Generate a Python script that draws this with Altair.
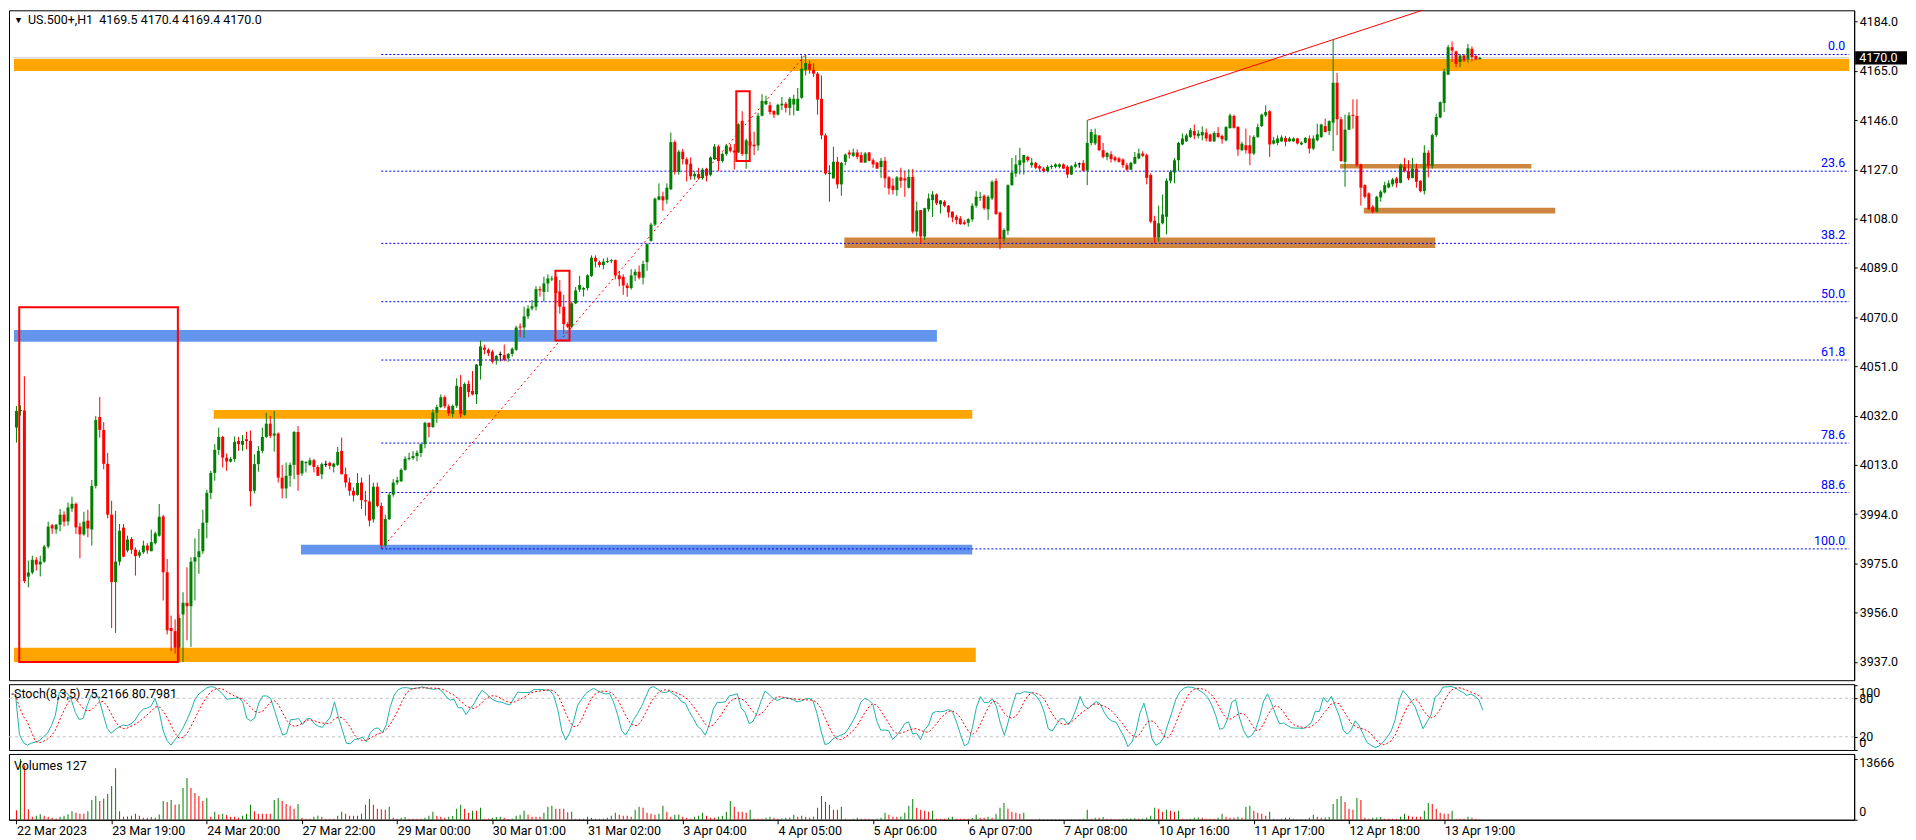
import altair as alt
import numpy as np
import pandas as pd

# US.500+ H1, hourly bars from 22 Mar 2023 to 13 Apr 2023
bar_open = [
    4027.4, 4033.8, 4034.0, 3969.9, 3971.5, 3976.4, 3974.6, 3975.7, 3981.5, 3989.7,
    3988.1, 3989.9, 3993.8, 3991.2, 3996.2, 3998.0, 3989.2, 3986.2, 3991.5, 3988.1,
    4004.9, 4031.5, 4026.5, 4013.4, 3993.8, 3967.8, 3975.7, 3988.8, 3980.0, 3984.4,
    3980.3, 3978.0, 3979.3, 3981.9, 3979.7, 3982.8, 3985.7, 3993.1, 3971.6, 3950.1,
    3948.9, 3942.5, 3955.3, 3959.8, 3958.5, 3975.7, 3977.4, 3979.7, 3990.7, 4002.2,
    4009.9, 4018.8, 4023.8, 4015.8, 4014.3, 4015.3, 4022.2, 4020.8, 4022.9, 4022.2,
    4003.0, 4013.3, 4018.4, 4023.8, 4028.9, 4024.3, 4025.1, 4008.1, 4003.9, 4008.8,
    4013.0, 4025.7, 4009.7, 4013.7, 4013.0, 4014.8, 4012.2, 4009.4, 4013.0, 4013.8,
    4012.2, 4013.0, 4018.4, 4009.4, 4006.2, 4003.0, 4001.4, 4006.2, 3999.4, 3998.9,
    3992.0, 4004.6, 3997.2, 3981.9, 3992.1, 4001.5, 4006.2, 4006.7, 4011.1, 4015.3,
    4015.6, 4016.4, 4017.6, 4021.0, 4029.2, 4027.6, 4033.2, 4035.3, 4039.1, 4035.6,
    4032.7, 4035.8, 4043.1, 4032.3, 4044.2, 4041.5, 4040.2, 4051.2, 4058.2, 4057.4,
    4056.7, 4053.2, 4055.4, 4055.4, 4054.1, 4055.8, 4057.4, 4066.4, 4066.0, 4070.3,
    4073.3, 4074.0, 4080.8, 4079.7, 4083.0, 4084.5, 4085.5, 4079.9, 4074.0, 4067.3,
    4066.3, 4075.3, 4080.6, 4080.6, 4081.2, 4085.9, 4092.9, 4091.2, 4090.1, 4091.2,
    4091.6, 4092.0, 4086.1, 4085.5, 4082.2, 4081.2, 4086.1, 4087.5, 4085.2, 4091.2,
    4099.4, 4105.7, 4115.3, 4116.6, 4115.3, 4119.3, 4137.5, 4126.0, 4133.8, 4130.9,
    4129.2, 4124.3, 4125.2, 4123.6, 4127.2, 4124.9, 4130.9, 4135.8, 4130.2, 4132.9,
    4135.5, 4134.2, 4133.5, 4145.7, 4132.9, 4137.8, 4136.5, 4136.2, 4147.7, 4152.1,
    4151.7, 4149.5, 4148.1, 4151.7, 4152.3, 4150.7, 4152.0, 4149.6, 4154.6, 4165.4,
    4167.7, 4165.4, 4163.9, 4154.2, 4140.1, 4125.2, 4123.5, 4129.9, 4121.2, 4129.9,
    4133.5, 4132.2, 4133.5, 4132.5, 4129.6, 4133.5, 4130.5, 4129.6, 4127.9, 4130.3,
    4123.9, 4120.7, 4119.0, 4123.9, 4123.5, 4119.9, 4124.1, 4103.0, 4111.3, 4101.1,
    4111.6, 4115.1, 4117.3, 4113.5, 4114.5, 4113.0, 4110.7, 4108.7, 4108.1, 4106.6,
    4106.4, 4107.7, 4113.0, 4116.0, 4116.8, 4111.6, 4115.8, 4122.6, 4110.3, 4100.2,
    4103.3, 4120.9, 4125.4, 4128.6, 4129.6, 4131.8, 4128.6, 4129.5, 4128.2, 4127.3,
    4126.3, 4127.9, 4128.0, 4128.0, 4128.9, 4128.0, 4125.0, 4128.0, 4128.9, 4129.5,
    4126.5, 4137.2, 4137.0, 4140.1, 4134.4, 4131.8, 4132.8, 4131.6, 4131.2, 4130.8,
    4128.6, 4126.9, 4129.2, 4131.2, 4133.1, 4132.5, 4124.8, 4107.2, 4100.7, 4106.2,
    4108.7, 4122.6, 4125.8, 4130.5, 4136.6, 4137.8, 4139.5, 4141.8, 4139.9, 4140.1,
    4141.2, 4140.4, 4137.8, 4141.0, 4139.9, 4138.2, 4142.9, 4147.6, 4143.3, 4134.4,
    4136.3, 4136.3, 4133.1, 4139.5, 4143.7, 4147.8, 4149.4, 4136.9, 4137.2, 4137.8,
    4139.1, 4137.8, 4137.8, 4138.9, 4136.6, 4137.3, 4138.9, 4135.0, 4138.2, 4139.5,
    4143.7, 4141.8, 4145.0, 4160.4, 4146.3, 4129.9, 4142.3, 4147.8, 4147.6, 4128.9,
    4120.9, 4117.7, 4112.6, 4110.7, 4116.2, 4118.1, 4120.0, 4121.2, 4123.5, 4121.8,
    4128.0, 4126.3, 4123.7, 4127.3, 4122.6, 4118.6, 4133.4, 4128.4, 4140.2, 4147.0,
    4152.6, 4163.5, 4174.1, 4172.5, 4168.4, 4170.9, 4169.4, 4173.5, 4170.7, 4169.5,
]
bar_high = [
    4035.7, 4036.0, 4047.2, 3976.1, 3978.0, 3977.4, 3978.0, 3982.1, 3991.1, 3990.2,
    3990.2, 3996.0, 3995.1, 3998.5, 4000.7, 3998.5, 3990.7, 3994.9, 3995.7, 4007.2,
    4031.9, 4039.2, 4029.5, 4017.6, 3999.2, 3995.3, 3990.2, 3990.2, 3985.7, 3985.1,
    3981.2, 3980.2, 3983.8, 3982.8, 3988.0, 3987.3, 3997.9, 3993.7, 3976.7, 3954.9,
    3953.4, 3955.3, 3963.9, 3973.5, 3977.4, 3984.7, 3988.3, 3995.7, 4003.4, 4010.7,
    4021.0, 4027.4, 4024.2, 4017.4, 4016.1, 4024.0, 4023.8, 4024.5, 4025.8, 4026.3,
    4017.1, 4020.3, 4027.4, 4033.1, 4031.9, 4033.8, 4025.5, 4013.0, 4013.9, 4013.9,
    4026.1, 4028.0, 4014.8, 4014.4, 4015.8, 4015.4, 4013.0, 4013.9, 4014.6, 4014.2,
    4013.8, 4019.9, 4023.5, 4012.0, 4008.1, 4004.3, 4009.8, 4008.1, 4003.0, 4009.2,
    4006.2, 4006.2, 3998.5, 3993.8, 4002.4, 4007.5, 4008.4, 4011.7, 4016.3, 4017.7,
    4018.3, 4018.6, 4021.3, 4029.6, 4029.4, 4034.5, 4036.2, 4040.2, 4039.8, 4036.3,
    4036.3, 4046.4, 4047.7, 4044.8, 4045.5, 4049.2, 4051.9, 4061.0, 4059.4, 4058.0,
    4057.4, 4055.4, 4056.7, 4059.4, 4056.1, 4058.3, 4066.7, 4067.6, 4074.0, 4074.6,
    4076.6, 4081.9, 4081.9, 4085.6, 4086.5, 4085.9, 4085.9, 4084.3, 4078.6, 4068.0,
    4076.0, 4081.6, 4085.9, 4081.6, 4086.5, 4093.8, 4093.8, 4091.8, 4092.6, 4093.0,
    4092.4, 4092.2, 4087.9, 4086.5, 4083.2, 4088.5, 4088.5, 4089.9, 4091.8, 4098.5,
    4106.4, 4116.1, 4121.6, 4118.4, 4121.6, 4141.2, 4138.2, 4134.5, 4134.9, 4131.6,
    4131.6, 4126.3, 4127.6, 4127.6, 4127.6, 4132.0, 4136.8, 4136.5, 4133.5, 4136.8,
    4136.8, 4136.8, 4144.8, 4149.4, 4138.8, 4140.8, 4141.5, 4148.8, 4156.0, 4155.4,
    4153.0, 4149.8, 4152.3, 4154.9, 4153.0, 4154.9, 4155.8, 4158.4, 4170.9, 4171.3,
    4169.0, 4167.9, 4164.5, 4163.2, 4140.8, 4128.6, 4135.7, 4131.8, 4129.9, 4133.1,
    4134.4, 4135.0, 4134.7, 4133.7, 4133.7, 4133.7, 4131.2, 4129.9, 4131.4, 4131.8,
    4124.4, 4123.5, 4124.4, 4127.6, 4126.3, 4127.1, 4127.1, 4114.5, 4111.3, 4112.2,
    4117.7, 4118.6, 4117.7, 4115.1, 4115.1, 4113.2, 4110.7, 4109.4, 4109.0, 4107.5,
    4108.1, 4113.9, 4118.6, 4118.3, 4117.3, 4117.0, 4122.8, 4123.5, 4110.7, 4104.2,
    4121.2, 4131.4, 4132.5, 4135.3, 4132.5, 4132.2, 4131.4, 4129.9, 4128.8, 4127.9,
    4128.6, 4128.8, 4129.3, 4129.3, 4129.3, 4128.6, 4128.6, 4129.9, 4129.6, 4130.6,
    4145.9, 4142.5, 4142.7, 4140.1, 4137.2, 4133.7, 4134.0, 4132.2, 4131.8, 4131.2,
    4129.5, 4129.9, 4133.7, 4135.0, 4134.0, 4133.1, 4125.4, 4109.1, 4113.0, 4117.3,
    4123.5, 4126.7, 4131.4, 4137.6, 4140.8, 4140.8, 4143.0, 4144.3, 4142.1, 4143.6,
    4142.7, 4140.8, 4141.7, 4143.3, 4140.4, 4143.7, 4148.5, 4148.1, 4143.7, 4137.6,
    4142.7, 4140.1, 4140.1, 4144.6, 4148.5, 4151.7, 4149.8, 4139.5, 4140.1, 4140.1,
    4139.9, 4139.5, 4139.3, 4139.1, 4137.8, 4139.5, 4140.1, 4140.1, 4144.6, 4144.6,
    4146.6, 4145.9, 4177.1, 4164.2, 4147.2, 4148.1, 4149.1, 4154.0, 4154.0, 4129.2,
    4121.2, 4118.1, 4113.2, 4116.8, 4119.0, 4122.2, 4122.8, 4123.7, 4124.1, 4129.2,
    4131.4, 4130.5, 4131.4, 4129.2, 4122.8, 4136.3, 4134.4, 4140.8, 4148.5, 4153.2,
    4165.8, 4175.0, 4176.3, 4172.8, 4171.5, 4171.5, 4175.4, 4174.4, 4171.5, 4170.4,
]
bar_low = [
    4021.6, 4032.0, 3967.4, 3965.8, 3970.8, 3972.3, 3970.0, 3975.2, 3980.8, 3986.4,
    3986.4, 3987.4, 3989.3, 3989.6, 3994.9, 3986.4, 3977.0, 3985.7, 3985.1, 3981.9,
    4003.9, 4023.5, 4011.3, 3992.4, 3950.1, 3948.2, 3974.2, 3977.4, 3979.3, 3978.7,
    3970.3, 3977.1, 3978.7, 3978.7, 3979.7, 3982.3, 3985.3, 3960.7, 3947.6, 3941.2,
    3940.2, 3937.0, 3937.0, 3945.3, 3942.8, 3960.7, 3971.0, 3978.7, 3984.7, 3999.8,
    4006.9, 4016.9, 4012.0, 4010.7, 4013.9, 4014.2, 4018.4, 4018.4, 4019.0, 3997.0,
    4002.0, 4010.4, 4017.5, 4023.3, 4023.3, 4018.1, 4006.2, 4000.1, 4000.1, 4004.6,
    4007.5, 4003.0, 4008.8, 4010.1, 4012.6, 4010.1, 4008.8, 4007.5, 4012.2, 4011.3,
    4010.1, 4012.6, 4009.4, 4004.3, 4001.1, 3998.9, 4001.1, 3996.0, 3993.4, 3989.3,
    3990.8, 3996.6, 3980.6, 3981.2, 3991.7, 4000.7, 4005.3, 4006.4, 4010.8, 4014.7,
    4015.0, 4014.4, 4016.0, 4019.4, 4023.6, 4027.3, 4029.2, 4034.9, 4034.8, 4031.9,
    4031.3, 4035.0, 4031.3, 4032.0, 4039.1, 4039.8, 4036.5, 4045.9, 4055.7, 4055.0,
    4052.1, 4051.7, 4053.0, 4053.0, 4052.8, 4054.8, 4057.0, 4062.3, 4062.0, 4069.3,
    4072.6, 4072.6, 4077.9, 4076.0, 4079.7, 4083.9, 4075.3, 4071.3, 4063.6, 4065.8,
    4065.8, 4075.0, 4079.7, 4077.9, 4080.3, 4085.5, 4089.2, 4089.2, 4088.5, 4090.9,
    4090.8, 4084.6, 4081.9, 4078.6, 4077.9, 4080.6, 4083.9, 4084.5, 4082.6, 4087.9,
    4099.1, 4105.1, 4115.0, 4111.0, 4113.7, 4119.0, 4125.0, 4124.9, 4128.9, 4122.3,
    4123.0, 4123.0, 4123.0, 4123.0, 4122.3, 4124.3, 4130.6, 4126.3, 4129.6, 4132.2,
    4133.5, 4126.9, 4133.3, 4132.2, 4127.2, 4135.5, 4132.5, 4134.2, 4147.4, 4151.8,
    4148.1, 4146.8, 4147.8, 4149.8, 4148.9, 4147.8, 4147.8, 4149.6, 4154.2, 4163.2,
    4163.9, 4162.6, 4148.1, 4138.6, 4124.8, 4114.5, 4123.5, 4119.6, 4116.8, 4128.6,
    4131.2, 4131.8, 4130.9, 4129.6, 4129.6, 4130.1, 4127.6, 4127.1, 4123.7, 4119.9,
    4117.3, 4117.3, 4116.8, 4119.9, 4116.4, 4119.6, 4102.3, 4101.1, 4098.5, 4099.8,
    4110.7, 4108.6, 4113.2, 4110.0, 4112.4, 4108.4, 4106.6, 4105.8, 4105.6, 4105.6,
    4104.9, 4106.8, 4112.2, 4114.8, 4111.3, 4107.5, 4115.2, 4109.4, 4096.2, 4099.1,
    4101.7, 4120.7, 4124.1, 4125.0, 4125.0, 4129.9, 4127.6, 4127.1, 4126.1, 4125.8,
    4125.8, 4127.1, 4127.4, 4127.4, 4127.1, 4123.7, 4124.8, 4127.4, 4127.6, 4126.1,
    4120.9, 4136.3, 4136.3, 4134.0, 4131.2, 4130.5, 4129.6, 4129.9, 4129.6, 4127.6,
    4126.3, 4126.7, 4129.0, 4130.9, 4131.8, 4121.2, 4106.2, 4098.5, 4099.1, 4105.8,
    4101.9, 4121.6, 4121.6, 4126.3, 4136.3, 4137.6, 4139.1, 4138.6, 4138.9, 4138.2,
    4137.8, 4137.6, 4137.6, 4139.1, 4136.9, 4137.8, 4142.7, 4142.7, 4132.2, 4134.0,
    4133.1, 4128.6, 4132.5, 4139.1, 4143.3, 4147.2, 4131.8, 4136.6, 4136.3, 4137.6,
    4135.9, 4137.6, 4137.6, 4136.6, 4136.3, 4137.0, 4133.1, 4134.4, 4137.8, 4139.1,
    4141.2, 4140.2, 4134.1, 4140.2, 4129.9, 4120.3, 4142.1, 4142.7, 4128.0, 4113.0,
    4115.8, 4111.3, 4110.0, 4110.4, 4114.5, 4117.7, 4119.7, 4120.3, 4120.0, 4121.6,
    4125.8, 4122.8, 4123.5, 4119.9, 4118.1, 4117.3, 4123.9, 4127.3, 4139.5, 4146.7,
    4149.1, 4163.5, 4168.4, 4166.4, 4166.4, 4168.4, 4168.1, 4168.6, 4169.1, 4169.4,
]
bar_close = [
    4033.8, 4034.0, 3968.2, 3971.5, 3976.4, 3974.6, 3975.7, 3981.5, 3989.2, 3988.5,
    3989.9, 3993.8, 3991.1, 3996.6, 3998.0, 3988.9, 3986.2, 3991.1, 3988.5, 4004.9,
    4030.3, 4026.5, 4013.4, 3993.8, 3967.8, 3975.7, 3987.6, 3977.6, 3984.2, 3980.3,
    3977.8, 3979.3, 3981.9, 3980.0, 3983.2, 3986.6, 3993.0, 3971.6, 3949.2, 3948.9,
    3942.5, 3954.0, 3959.8, 3958.5, 3975.7, 3977.4, 3979.7, 3990.7, 4002.2, 4009.9,
    4018.8, 4023.8, 4015.8, 4014.3, 4015.3, 4021.9, 4021.0, 4022.2, 4022.2, 4002.8,
    4013.3, 4018.4, 4023.8, 4028.9, 4024.2, 4025.1, 4008.1, 4003.9, 4008.8, 4013.0,
    4025.7, 4009.2, 4014.5, 4014.0, 4014.8, 4012.2, 4008.8, 4013.3, 4013.0, 4012.6,
    4013.5, 4018.0, 4009.4, 4006.2, 4003.0, 4001.2, 4006.0, 3999.4, 3998.9, 3991.5,
    4004.6, 3997.2, 3981.9, 3992.1, 4001.5, 4006.2, 4007.1, 4011.1, 4015.4, 4015.6,
    4016.4, 4017.7, 4021.0, 4029.2, 4027.6, 4033.2, 4035.3, 4039.1, 4035.6, 4032.9,
    4035.8, 4043.5, 4032.7, 4044.2, 4041.1, 4040.2, 4051.7, 4058.7, 4057.4, 4056.1,
    4052.8, 4055.0, 4055.4, 4053.4, 4055.8, 4057.8, 4066.0, 4066.0, 4070.3, 4073.3,
    4074.2, 4080.8, 4080.3, 4083.0, 4084.9, 4084.9, 4079.3, 4074.0, 4067.3, 4066.3,
    4075.3, 4080.3, 4082.4, 4081.2, 4086.1, 4092.9, 4091.4, 4090.1, 4091.4, 4091.6,
    4092.0, 4086.1, 4084.6, 4082.2, 4081.2, 4086.1, 4087.5, 4085.2, 4090.5, 4098.1,
    4105.7, 4115.7, 4116.6, 4115.0, 4119.9, 4137.5, 4126.0, 4133.8, 4130.9, 4128.9,
    4124.3, 4125.2, 4123.6, 4126.9, 4124.5, 4131.6, 4135.8, 4130.2, 4132.9, 4136.2,
    4134.2, 4133.5, 4144.4, 4132.9, 4138.2, 4136.2, 4135.9, 4147.7, 4153.4, 4153.4,
    4149.1, 4148.1, 4151.9, 4152.3, 4150.7, 4154.2, 4154.2, 4154.2, 4165.8, 4168.0,
    4165.4, 4163.9, 4153.9, 4140.1, 4125.4, 4125.7, 4129.9, 4121.2, 4129.5, 4132.7,
    4132.7, 4133.5, 4131.8, 4129.6, 4133.1, 4130.3, 4128.9, 4127.3, 4130.3, 4123.5,
    4119.6, 4119.0, 4123.9, 4122.6, 4122.7, 4124.1, 4103.0, 4111.1, 4101.1, 4112.0,
    4115.8, 4117.3, 4113.9, 4115.0, 4113.0, 4110.4, 4108.4, 4107.5, 4105.9, 4105.9,
    4107.8, 4113.0, 4116.4, 4116.4, 4112.0, 4116.4, 4122.2, 4109.8, 4100.2, 4103.6,
    4120.9, 4125.8, 4128.9, 4130.5, 4132.5, 4130.5, 4129.6, 4127.6, 4127.3, 4126.3,
    4128.0, 4128.2, 4128.9, 4128.9, 4127.3, 4125.0, 4128.2, 4128.9, 4128.9, 4126.5,
    4137.2, 4141.4, 4140.4, 4134.4, 4131.8, 4133.3, 4130.9, 4130.5, 4129.9, 4128.6,
    4126.9, 4129.5, 4131.8, 4133.1, 4132.2, 4123.7, 4106.8, 4100.7, 4106.2, 4109.6,
    4122.6, 4126.0, 4130.5, 4137.2, 4138.9, 4140.1, 4142.1, 4140.1, 4140.8, 4141.4,
    4138.9, 4137.8, 4141.0, 4139.5, 4138.6, 4143.3, 4147.8, 4143.0, 4134.6, 4136.9,
    4134.4, 4133.1, 4139.5, 4143.3, 4148.1, 4149.1, 4136.6, 4138.2, 4138.9, 4139.3,
    4137.6, 4138.9, 4138.9, 4137.0, 4137.3, 4139.1, 4135.0, 4138.9, 4140.5, 4144.3,
    4141.4, 4145.6, 4160.4, 4146.3, 4130.2, 4142.3, 4147.8, 4147.6, 4128.6, 4119.9,
    4116.4, 4111.7, 4110.7, 4116.4, 4118.4, 4120.9, 4121.6, 4123.1, 4121.6, 4128.6,
    4126.3, 4123.5, 4127.3, 4122.2, 4118.6, 4133.4, 4128.4, 4140.2, 4147.2, 4152.9,
    4164.8, 4174.1, 4172.8, 4167.7, 4170.9, 4169.0, 4173.7, 4170.3, 4169.4, 4170.0,
]
bar_volume = [
    2155, 13666, 12185, 2378, 669, 892, 1263, 892, 669, 446,
    297, 669, 892, 1263, 1932, 1560, 1337, 1337, 1932, 4458,
    5350, 4235, 4755, 5795, 7579, 11591, 1932, 669, 743, 892,
    1337, 892, 446, 446, 594, 446, 1189, 4235, 4012, 4458,
    3344, 3492, 7133, 9362, 7133, 6018, 5350, 4235, 4904, 669,
    1783, 1189, 1337, 1040, 669, 669, 446, 892, 1337, 3344,
    1932, 1337, 1337, 1337, 1337, 4458, 4904, 4235, 3566, 3121,
    2452, 3566, 446, 223, 223, 669, 892, 669, 223, 223,
    223, 892, 1783, 1337, 892, 892, 892, 1337, 3344, 4681,
    3344, 2452, 2378, 2229, 2898, 446, 223, 446, 594, 223,
    223, 223, 223, 446, 892, 1783, 892, 669, 446, 669,
    817, 2452, 3344, 2452, 1560, 2006, 2006, 2675, 223, 223,
    446, 594, 669, 446, 149, 297, 892, 1115, 2006, 1115,
    669, 669, 669, 1560, 2898, 3121, 2452, 2452, 2452, 1709,
    1783, 223, 223, 223, 669, 446, 223, 223, 223, 446,
    892, 1560, 1115, 892, 892, 669, 2229, 2898, 2675, 1560,
    1337, 1115, 1337, 3121, 1783, 669, 1115, 1189, 669, 446,
    223, 669, 892, 1560, 892, 446, 446, 669, 892, 1783,
    4235, 2898, 1783, 1783, 1560, 2229, 223, 223, 223, 446,
    669, 446, 223, 297, 446, 520, 1115, 669, 892, 669,
    446, 669, 2675, 5350, 4012, 3344, 2229, 2229, 2898, 223,
    100, 223, 446, 223, 223, 223, 100, 223, 446, 1560,
    1115, 669, 669, 743, 1560, 3121, 4681, 2675, 2229, 2006,
    1783, 2006, 223, 223, 223, 446, 669, 223, 223, 223,
    223, 446, 1115, 446, 446, 669, 446, 1337, 2675, 3789,
    2452, 1783, 1560, 1337, 1560, 120, 100, 100, 223, 100,
    100, 100, 100, 100, 100, 100, 100, 100, 100, 223,
    2229, 223, 446, 446, 594, 223, 223, 100, 100, 223,
    260, 300, 340, 223, 260, 446, 892, 2675, 2452, 1783,
    2229, 2006, 1783, 2006, 223, 100, 223, 446, 520, 446,
    223, 223, 223, 446, 1337, 669, 446, 446, 669, 446,
    2898, 3121, 2006, 1560, 1337, 892, 1783, 223, 100, 223,
    446, 446, 223, 100, 100, 100, 446, 1115, 669, 446,
    520, 594, 3566, 4681, 5350, 4012, 2452, 2229, 4904, 4458,
    446, 223, 446, 520, 594, 223, 223, 223, 223, 669,
    1337, 892, 669, 669, 669, 2006, 3789, 3566, 2452, 1560,
    1337, 1337, 2006, 223, 223, 223, 669, 446, 223, 127,
]

price_ticks = [4184.0, 4165.0, 4146.0, 4127.0, 4108.0, 4089.0, 4070.0,
               4051.0, 4032.0, 4013.0, 3994.0, 3975.0, 3956.0, 3937.0]
date_ticks = [0, 24, 48, 72, 96, 120, 144, 168, 192, 216, 240, 264, 288, 312, 336, 360]
date_labels = ["22 Mar 2023", "23 Mar 19:00", "24 Mar 20:00", "27 Mar 22:00",
               "29 Mar 00:00", "30 Mar 01:00", "31 Mar 02:00", "3 Apr 04:00",
               "4 Apr 05:00", "5 Apr 06:00", "6 Apr 07:00", "7 Apr 08:00",
               "10 Apr 16:00", "11 Apr 17:00", "12 Apr 18:00", "13 Apr 19:00"]

# drawn objects (bar index / price)
band_x0 = [None, None, 49.75, 71.75, None, 208.75, 333.75, 339.75]
band_x1 = [None, 232.1, 241.0, 241.0, 241.9, 357.75, 382.0, 388.0]
band_lo = [4164.9, 4060.5, 4030.8, 3978.4, 3937.0, 4096.7, 4127.3, 4110.0]
band_hi = [4169.6, 4065.0, 4034.2, 3982.2, 3942.5, 4100.7, 4129.1, 4112.2]
band_color = ["#FFA500", "#6495ED", "#FFA500", "#6495ED", "#FFA500",
              "#CD853F", "#CD853F", "#CD853F"]

box_x0 = [0.7, 135.9, 181.5]
box_x1 = [40.7, 139.45, 184.9]
box_lo = [3937.0, 4061.0, 4130.2]
box_hi = [4073.8, 4087.9, 4157.1]

fib_levels = [0.0, 23.6, 38.2, 50.0, 61.8, 78.6, 88.6, 100.0]
fib_from = (92, 3980.6)
fib_to = (199, 4171.3)
trend_x = [270, 359]
trend_p = [4145.9, 4190.6]
bid_price = 4170.0

title_text = "US.500+,H1\u00a0 4169.5 4170.4 4169.4 4170.0"
stoch_text = "Stoch(8,3,5) 75.2166 80.7981"
volume_text = "Volumes 127"

W = 1851
H_MAIN = 672
H_SUB = 66
X_MIN = -0.625
X_MAX = X_MIN + W / 4
FONT = "Roboto"
FS = 12.5

n = len(bar_close)
o = np.array(bar_open)
hi = np.array(bar_high)
lo = np.array(bar_low)
c = np.array(bar_close)

bars = pd.DataFrame({"i": np.arange(n), "open": o, "high": hi, "low": lo, "close": c})
bars["dir"] = np.where(c > o, "up", np.where(c < o, "down", "flat"))
body_lo = np.minimum(o, c)
body_hi = np.maximum(o, c)
bars["body_lo"] = body_lo
bars["body_hi"] = np.where(body_hi - body_lo < 0.4, body_lo + 0.4, body_hi)

# Stochastic 8,3,5 (low/high)
ll = bars["low"].rolling(8, min_periods=1).min()
hh = bars["high"].rolling(8, min_periods=1).max()
k = 100 * (bars["close"] - ll).rolling(3, min_periods=1).sum() / (hh - ll).rolling(3, min_periods=1).sum()
stoch = pd.DataFrame({"i": np.arange(n), "k": k, "d": k.rolling(5, min_periods=1).mean()})

vol = np.array(bar_volume)
vols = pd.DataFrame({"i": np.arange(n), "v": vol})
vols["dir"] = np.where(np.r_[False, vol[1:] > vol[:-1]], "up", "down")

xs = alt.Scale(domain=[X_MIN, X_MAX], nice=False, zero=False)
ys = alt.Scale(domain=[3929.96, 4188.34], nice=False, zero=False)
price_axis = alt.Axis(orient="right", values=price_ticks, format=".1f", tickSize=3,
                      labelPadding=2, title=None, grid=False, labelOverlap=False)
candle_colors = alt.Scale(domain=["up", "down", "flat"], range=["#008000", "#FF0000", "#000000"])


def px(field):
    return alt.X(field, type="quantitative", scale=xs, axis=None)


def py(field):
    return alt.Y(field, type="quantitative", scale=ys, axis=price_axis)


bands = pd.DataFrame({
    "x0": [X_MIN if v is None else v for v in band_x0],
    "x1": [X_MAX if v is None else v for v in band_x1],
    "lo": band_lo, "hi": band_hi, "color": band_color,
})
band_layer = alt.Chart(bands).mark_rect(clip=True).encode(
    x=px("x0"), x2="x1", y=py("lo"), y2="hi", color=alt.Color("color:N", scale=None)
)

bid_layer = alt.Chart(pd.DataFrame({"x0": [X_MIN], "x1": [X_MAX], "p": [bid_price]})).mark_rule(
    color="#C0C0C0", strokeWidth=1
).encode(x=px("x0"), x2="x1", y=py("p"))

span = fib_to[1] - fib_from[1]
fib = pd.DataFrame({
    "x0": [fib_from[0]] * len(fib_levels),
    "x1": [X_MAX] * len(fib_levels),
    "p": [fib_to[1] - r / 100 * span for r in fib_levels],
    "label": [f"{r:.1f}" for r in fib_levels],
})
fib_lines = alt.Chart(fib).mark_rule(color="#0000FF", strokeDash=[2, 2], strokeWidth=1).encode(
    x=px("x0"), x2="x1", y=py("p")
)
fib_text = alt.Chart(fib).mark_text(
    align="right", baseline="bottom", dx=-4, dy=-1, color="#0000FF", font=FONT, fontSize=FS
).encode(x=px("x1"), y=py("p"), text="label:N")
fib_diag = alt.Chart(pd.DataFrame({"x": [fib_from[0], fib_to[0]], "p": [fib_from[1], fib_to[1]]})).mark_line(
    color="#FF0000", strokeDash=[2, 3], strokeWidth=1
).encode(x=px("x"), y=py("p"))

trend = alt.Chart(pd.DataFrame({"x": trend_x, "p": trend_p})).mark_line(
    color="#FF0000", strokeWidth=1, clip=True
).encode(x=px("x"), y=py("p"))

boxes = alt.Chart(pd.DataFrame({"x0": box_x0, "x1": box_x1, "lo": box_lo, "hi": box_hi})).mark_rect(
    fillOpacity=0, stroke="#FF0000", strokeWidth=2
).encode(x=px("x0"), x2="x1", y=py("lo"), y2="hi")

wicks = alt.Chart(bars).mark_rule(strokeWidth=1).encode(
    x=px("i"), y=py("low"), y2="high", color=alt.Color("dir:N", scale=candle_colors, legend=None)
)
bodies = alt.Chart(bars).mark_bar(size=3).encode(
    x=px("i"), y=py("body_lo"), y2="body_hi", color=alt.Color("dir:N", scale=candle_colors, legend=None)
)

head = alt.Chart(pd.DataFrame({"t": [title_text]})).mark_text(
    align="left", baseline="middle", font=FONT, fontSize=FS, color="black"
).encode(x=alt.value(19), y=alt.value(10), text="t:N")
arrow = alt.Chart(pd.DataFrame({"t": ["\u25bc"]})).mark_text(
    align="left", baseline="middle", fontSize=9, color="black"
).encode(x=alt.value(5), y=alt.value(10), text="t:N")

last_box = alt.Chart(pd.DataFrame({"top": [bid_price + 2.55], "bot": [bid_price - 2.55]})).mark_rect(
    color="black"
).encode(x=alt.value(W + 1), x2=alt.value(W + 53), y=py("top"), y2="bot")
last_text = alt.Chart(pd.DataFrame({"p": [bid_price], "t": [f"{bid_price:.1f}"]})).mark_text(
    align="left", baseline="middle", color="white", font=FONT, fontSize=FS
).encode(x=alt.value(W + 5), y=py("p"), text="t:N")

main = alt.layer(
    band_layer, bid_layer, fib_lines, fib_diag, trend, wicks, bodies, boxes,
    fib_text, head, arrow, last_box, last_text
).properties(width=W, height=H_MAIN)

# stochastic panel
ys_st = alt.Scale(domain=[-0.5, 102], nice=False, zero=False)
st_axis = alt.Axis(orient="right", values=[0, 20, 80, 100], labels=False, tickSize=3, title=None, grid=False)
st_levels = alt.Chart(pd.DataFrame({"x0": [X_MIN] * 2, "x1": [X_MAX] * 2, "v": [20, 80]})).mark_rule(
    color="#C0C0C0", strokeDash=[3, 3], strokeWidth=1
).encode(x=px("x0"), x2="x1", y=alt.Y("v:Q", scale=ys_st, axis=st_axis))
st_main = alt.Chart(stoch).mark_line(color="#20B2AA", strokeWidth=1).encode(
    x=px("i"), y=alt.Y("k:Q", scale=ys_st, axis=st_axis)
)
st_signal = alt.Chart(stoch).mark_line(color="#FF0000", strokeWidth=1, strokeDash=[2, 2]).encode(
    x=px("i"), y=alt.Y("d:Q", scale=ys_st, axis=st_axis)
)
st_title = alt.Chart(pd.DataFrame({"t": [stoch_text]})).mark_text(
    align="left", baseline="middle", font=FONT, fontSize=FS, color="black"
).encode(x=alt.value(5), y=alt.value(10), text="t:N")
st_labels = []
for val, dy in [(100, 8), (80, 1), (20, 0), (0, -7)]:
    st_labels.append(
        alt.Chart(pd.DataFrame({"v": [val], "t": [str(val)]})).mark_text(
            align="left", baseline="middle", dy=dy, font=FONT, fontSize=FS, color="black"
        ).encode(x=alt.value(W + 5), y=alt.Y("v:Q", scale=ys_st, axis=st_axis), text="t:N")
    )
stoch_panel = alt.layer(st_levels, st_main, st_signal, st_title, *st_labels).properties(width=W, height=H_SUB)

# volume panel
label_expr = "[" + ",".join(f"'{s}'" for s in date_labels) + "][round(datum.value / 24)]"
date_axis = alt.Axis(values=date_ticks, labelExpr=label_expr, labelAlign="left", tickSize=4,
                     labelPadding=1, labelOverlap=False, labelFlush=False, title=None, grid=False)
ys_v = alt.Scale(domain=[0, 14786], nice=False, zero=True)
v_axis = alt.Axis(orient="right", values=[0, 13666], labels=False, tickSize=3, title=None, grid=False)
vol_bars = alt.Chart(vols).mark_bar(size=1).encode(
    x=alt.X("i:Q", scale=xs, axis=date_axis),
    y=alt.Y("v:Q", scale=ys_v, axis=v_axis),
    color=alt.Color("dir:N", scale=alt.Scale(domain=["up", "down"], range=["#008000", "#FF0000"]), legend=None),
)
v_title = alt.Chart(pd.DataFrame({"t": [volume_text]})).mark_text(
    align="left", baseline="middle", font=FONT, fontSize=FS, color="black"
).encode(x=alt.value(5), y=alt.value(12), text="t:N")
v_labels = []
for val, dy in [(13666, 4), (0, -8)]:
    v_labels.append(
        alt.Chart(pd.DataFrame({"v": [val], "t": [str(val)]})).mark_text(
            align="left", baseline="middle", dy=dy, font=FONT, fontSize=FS, color="black"
        ).encode(x=alt.value(W + 5), y=alt.Y("v:Q", scale=ys_v, axis=v_axis), text="t:N")
    )
volume_panel = alt.layer(vol_bars, v_title, *v_labels).properties(width=W, height=H_SUB)

chart = (
    alt.vconcat(main, stoch_panel, volume_panel, spacing=2)
    .resolve_scale(x="independent", y="independent", color="independent")
    .properties(padding={"left": 0, "top": 0, "right": 0, "bottom": 0}, background="white")
    .configure_view(stroke="black", strokeWidth=1)
    .configure_axis(labelFont=FONT, labelFontSize=FS, labelColor="black", domainColor="black",
                    tickColor="black", domainWidth=1, tickWidth=1)
)

chart.save("out.html", embed_options={"renderer": "svg", "actions": False})
